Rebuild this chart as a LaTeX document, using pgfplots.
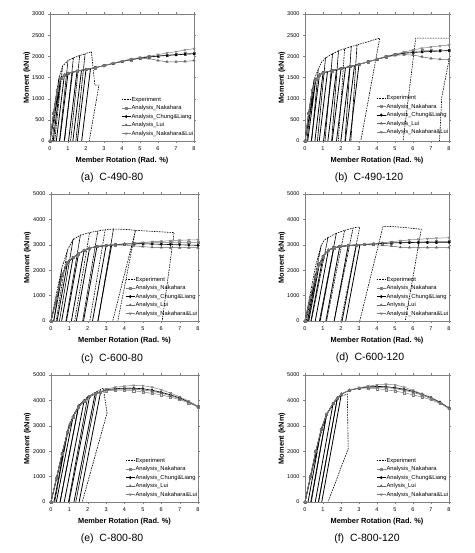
\documentclass[border=0pt]{standalone}
\usepackage{fontspec}
\setmainfont{Liberation Sans}
\usepackage{pgfplots}
\pgfplotsset{compat=1.18}
\pgfplotsset{
  panel/.style={scale only axis, height=127pt, xmin=0, xmax=8, ymin=0,
    xtick={0,1,...,8}, axis line style={gray}, tick style={gray},
    tick align=outside, major tick length=2pt,
    ticklabel style={font=\fontsize{5.5}{6}\selectfont},
    /pgf/number format/assume math mode=true,
    /pgf/number format/set thousands separator={},
    xlabel={Member Rotation (Rad. \%)}, ylabel={Moment (kNm)},
    label style={font=\bfseries\fontsize{7.4}{8}\selectfont},
    xlabel style={at={(axis description cs:0.5,-0.157)}, anchor=center},
    ylabel style={at={(axis description cs:-0.16,0.5)}, anchor=center},
    legend cell align=left,
    legend style={draw=none, fill=none, anchor=north east, font=\fontsize{5.8}{6}\selectfont,
      row sep=1.8pt, inner sep=0pt, nodes={inner sep=0.6pt, text height=4.2pt, text depth=1.3pt}},
    legend image code/.code={\draw[mark repeat=2,mark phase=2,##1] plot coordinates {(0pt,0pt) (4.5pt,0pt) (9pt,0pt)};},
  },
  expt/.style={black, line width=0.6pt, dash pattern=on 1.6pt off 1pt, mark=none},
  cyc/.style={black, line width=0.8pt, mark=none},
  nak/.style={gray, line width=0.5pt, mark=square, mark size=1.1pt, mark options={solid}},
  chung/.style={black, line width=0.6pt, mark=diamond*, mark size=1.2pt, mark options={solid}},
  lui/.style={gray!80!black, line width=0.5pt, mark=triangle*, mark size=1.3pt, mark options={solid}},
  naklui/.style={gray, line width=0.5pt, mark=triangle, mark size=1.3pt, mark options={solid, rotate=180}},
}
\begin{document}
\begin{tikzpicture}[x=1pt,y=1pt]
\path[use as bounding box] (0,0) rectangle (474,553);

% (a) C-490-80
\begin{axis}[panel, at={(50pt,412pt)}, anchor=south west, width=144pt, ymax=3000, ytick={0,500,...,3000},
  legend style={at={(1.0,0.354)}}]
\addplot[cyc, forget plot] coordinates {(0,0)(0.6,1480)(0.18,0)(0.6,1480)(0.8,1560)(0.35,0)(0.8,1560)(1.0,1600)(0.54,0)(1.0,1600)(1.25,1625)(0.79,0)(1.25,1625)(1.5,1650)(1.03,0)(1.5,1650)(1.75,1670)(1.27,0)(1.75,1670)(2.0,1690)(1.52,0)(2.0,1690)(2.25,1710)(1.76,0)};
\addplot[expt] coordinates {(0,0)(0.25,850)(0.5,1500)(0.125,0)(0.5,1500)(0.7,1770)(0.26,0)(0.7,1770)(1.0,1900)(0.525,0)(1.0,1900)(1.3,1960)(0.81,0)(1.3,1960)(1.65,2020)(1.145,0)(1.65,2020)(1.95,2060)(1.435,0)(1.95,2060)(2.3,2110)(2.49,1320)(2.72,1320)(2.18,0)};
\addplot[nak] coordinates {(0,0)(0.2,650)(0.4,1200)(0.6,1480)(0.8,1560)(1.0,1600)(1.5,1650)(2.0,1690)(2.5,1730)(3.0,1780)(3.5,1830)(4.0,1880)(4.5,1920)(5.0,1960)(5.5,1990)(6.0,2010)(6.5,2030)(7.0,2045)(7.5,2060)(8.0,2070)};
\addplot[chung] coordinates {(0,0)(0.2,650)(0.4,1200)(0.6,1480)(0.8,1560)(1.0,1600)(1.5,1650)(2.0,1690)(2.5,1730)(3.0,1780)(3.5,1830)(4.0,1880)(4.5,1920)(5.0,1960)(5.5,1985)(6.0,2005)(6.5,2020)(7.0,2035)(7.5,2050)(8.0,2060)};
\addplot[lui] coordinates {(0,0)(0.2,650)(0.4,1200)(0.6,1480)(0.8,1560)(1.0,1600)(1.5,1650)(2.0,1690)(2.5,1730)(3.0,1780)(3.5,1830)(4.0,1880)(4.5,1920)(5.0,1950)(5.5,1950)(6.0,1900)(6.5,1870)(7.0,1870)(7.5,1880)(8.0,1900)};
\addplot[naklui] coordinates {(0,0)(0.2,650)(0.4,1200)(0.6,1480)(0.8,1560)(1.0,1600)(1.5,1650)(2.0,1690)(2.5,1730)(3.0,1780)(3.5,1840)(4.0,1890)(4.5,1940)(5.0,1970)(5.5,2000)(6.0,2040)(6.5,2080)(7.0,2110)(7.5,2150)(8.0,2180)};
\legend{Experiment, Analysis\_Nakahara, Analysis\_Chung\&Liang, Analysis\_Lui, Analysis\_Nakahara\&Lui}
\end{axis}

% (b) C-490-120
\begin{axis}[panel, at={(305pt,412pt)}, anchor=south west, width=144pt, ymax=3000, ytick={0,500,...,3000},
  legend style={at={(1.0,0.366)}}]
\addplot[cyc, forget plot] coordinates {(0,0)(0.6,1450)(0.15,0)(0.6,1450)(0.8,1560)(0.35,0)(0.8,1560)(1.0,1610)(0.55,0)(1.0,1610)(1.25,1635)(0.79,0)(1.25,1635)(1.5,1660)(1.03,0)(1.5,1660)(1.75,1685)(1.27,0)(1.75,1685)(2.0,1710)(1.51,0)(2.0,1710)(2.25,1735)(1.75,0)(2.25,1735)(2.5,1760)(1.99,0)(2.5,1760)(2.75,1785)(2.24,0)(2.75,1785)(3.0,1810)(2.48,0)};
\addplot[expt] coordinates {(0,0)(0.25,800)(0.5,1450)(0.1,0)(0.5,1450)(0.74,1700)(0.37,0)(0.74,1700)(0.9,1850)(1.14,1960)(0.69,0)(1.14,1960)(1.53,2060)(1.11,0)(1.53,2060)(1.86,2130)(1.48,0)(1.86,2130)(2.2,2180)(1.85,0)(2.2,2180)(2.57,2230)(2.22,0)(2.57,2230)(2.89,2270)(2.55,0)(2.89,2270)(3.3,2320)(3.68,2370)(4.15,2430)(3.1,0)(3.0,-600)(5.3,-600)(5.45,0)(6.15,2430)(7.0,2430)(8.0,2430)(8.2,2430)(8.2,-600)(7.4,-600)(7.6,1040)(8.1,2130)};
\addplot[nak] coordinates {(0,0)(0.2,650)(0.4,1200)(0.6,1450)(0.8,1560)(1.0,1610)(1.5,1660)(2.0,1710)(2.5,1760)(3.0,1810)(3.5,1870)(4.0,1930)(4.5,1990)(5.0,2040)(5.5,2080)(6.0,2110)(6.5,2130)(7.0,2140)(7.5,2145)(8.0,2150)};
\addplot[chung] coordinates {(0,0)(0.2,650)(0.4,1200)(0.6,1450)(0.8,1560)(1.0,1610)(1.5,1660)(2.0,1710)(2.5,1760)(3.0,1810)(3.5,1870)(4.0,1930)(4.5,1990)(5.0,2040)(5.5,2070)(6.0,2090)(6.5,2105)(7.0,2115)(7.5,2125)(8.0,2135)};
\addplot[lui] coordinates {(0,0)(0.2,650)(0.4,1200)(0.6,1450)(0.8,1560)(1.0,1610)(1.5,1660)(2.0,1710)(2.5,1760)(3.0,1810)(3.5,1870)(4.0,1930)(4.5,1980)(5.0,2020)(5.5,2040)(6.0,2030)(6.5,1990)(7.0,1950)(7.5,1930)(8.0,1925)};
\addplot[naklui] coordinates {(0,0)(0.2,650)(0.4,1200)(0.6,1450)(0.8,1560)(1.0,1610)(1.5,1660)(2.0,1710)(2.5,1760)(3.0,1810)(3.5,1870)(4.0,1935)(4.5,2000)(5.0,2050)(5.5,2100)(6.0,2150)(6.5,2190)(7.0,2220)(7.5,2245)(8.0,2265)};
\legend{Experiment, Analysis\_Nakahara, Analysis\_Chung\&Liang, Analysis\_Lui, Analysis\_Nakahara\&Lui}
\end{axis}

% (c) C-600-80
\begin{axis}[panel, at={(51pt,232pt)}, anchor=south west, width=147pt, ymax=5000, ytick={0,1000,...,5000},
  legend style={at={(1.0,0.354)}}]
\addplot[cyc, forget plot] coordinates {(0,0)(0.6,1800)(0.15,0)(0.6,1800)(0.9,2300)(0.33,0)(0.9,2300)(1.2,2500)(0.58,0)(1.2,2500)(1.5,2650)(0.84,0)(1.5,2650)(1.8,2780)(1.11,0)(1.8,2780)(2.1,2870)(1.38,0)(2.1,2870)(2.5,2930)(1.77,0)(2.5,2930)(3.0,2970)(2.26,0)(3.0,2970)(3.3,2990)(2.55,0)};
\addplot[expt] coordinates {(0,0)(0.3,1100)(0.6,2100)(0.15,0)(0.6,2100)(0.9,2800)(0.28,0)(0.9,2800)(1.2,3200)(0.46,0)(1.2,3200)(1.6,3380)(0.81,0)(1.6,3380)(2.1,3480)(1.29,0)(2.1,3480)(2.55,3550)(1.72,0)(2.55,3550)(2.95,3590)(2.11,0)(2.95,3590)(3.4,3620)(2.56,0)(3.4,3620)(4.0,3610)(4.6,3570)(3.36,0)(3.3,-800)(3.42,-800)(4.6,3570)(5.5,3530)(6.7,3480)(6.05,0)};
\addplot[nak] coordinates {(0,0)(0.3,900)(0.6,1800)(0.9,2300)(1.2,2500)(1.5,2650)(1.8,2780)(2.1,2870)(2.5,2930)(3.0,2970)(3.5,3000)(4.0,3030)(4.5,3050)(5.0,3070)(5.5,3080)(6.0,3090)(6.5,3095)(7.0,3100)(7.5,3100)(8.0,3100)};
\addplot[chung] coordinates {(0,0)(0.3,900)(0.6,1800)(0.9,2300)(1.2,2500)(1.5,2650)(1.8,2780)(2.1,2870)(2.5,2930)(3.0,2970)(3.5,3000)(4.0,3030)(4.5,3040)(5.0,3040)(5.5,3030)(6.0,3020)(6.5,3010)(7.0,3000)(7.5,2990)(8.0,2980)};
\addplot[lui] coordinates {(0,0)(0.3,900)(0.6,1800)(0.9,2300)(1.2,2500)(1.5,2650)(1.8,2780)(2.1,2870)(2.5,2930)(3.0,2970)(3.5,2990)(4.0,2990)(4.5,2960)(5.0,2930)(5.5,2900)(6.0,2890)(6.5,2885)(7.0,2885)(7.5,2885)(8.0,2885)};
\addplot[naklui] coordinates {(0,0)(0.3,900)(0.6,1800)(0.9,2300)(1.2,2500)(1.5,2650)(1.8,2780)(2.1,2870)(2.5,2930)(3.0,2980)(3.5,3010)(4.0,3040)(4.5,3065)(5.0,3090)(5.5,3120)(6.0,3140)(6.5,3160)(7.0,3175)(7.5,3190)(8.0,3200)};
\legend{Experiment, Analysis\_Nakahara, Analysis\_Chung\&Liang, Analysis\_Lui, Analysis\_Nakahara\&Lui}
\end{axis}

% (d) C-600-120
\begin{axis}[panel, at={(305pt,232pt)}, anchor=south west, width=144pt, ymax=5000, ytick={0,1000,...,5000},
  legend style={at={(1.0,0.354)}}]
\addplot[cyc, forget plot] coordinates {(0,0)(0.6,1750)(0.14,0)(0.6,1750)(0.8,2250)(0.21,0)(0.8,2250)(1.0,2530)(0.33,0)(1.0,2530)(1.3,2790)(0.57,0)(1.3,2790)(1.6,2880)(0.84,0)(1.6,2880)(1.93,2930)(1.16,0)(1.93,2930)(2.4,2970)(1.62,0)(2.4,2970)(2.85,2990)(2.06,0)(2.85,2990)(3.05,3000)(2.26,0)};
\addplot[expt] coordinates {(0,0)(0.3,1100)(0.6,2200)(0.91,3000)(0.07,0)(0.91,3000)(1.09,3190)(1.28,3290)(0.35,0)(1.28,3290)(1.56,3386)(1.74,3450)(0.8,0)(1.74,3450)(2.2,3570)(1.2,0)(2.2,3570)(2.67,3660)(1.62,0)(2.67,3660)(2.85,3688)(3.04,3700)(2.0,0)(1.9,-800)(2.85,-800)(3.04,0)(4.33,3714)(4.52,3727)(5.0,3710)(5.63,3675)(6.46,3609)(5.57,0)};
\addplot[nak] coordinates {(0,0)(0.3,950)(0.6,1750)(0.8,2250)(1.0,2530)(1.3,2790)(1.6,2880)(1.93,2930)(2.4,2970)(2.85,2990)(3.3,3010)(3.8,3030)(4.3,3060)(4.8,3080)(5.3,3095)(5.8,3105)(6.3,3110)(6.8,3115)(7.3,3120)(8.0,3125)};
\addplot[chung] coordinates {(0,0)(0.3,950)(0.6,1750)(0.8,2250)(1.0,2530)(1.3,2790)(1.6,2880)(1.93,2930)(2.4,2970)(2.85,2990)(3.3,3010)(3.8,3030)(4.3,3055)(4.8,3070)(5.3,3080)(5.8,3090)(6.3,3095)(6.8,3100)(7.3,3100)(8.0,3100)};
\addplot[lui] coordinates {(0,0)(0.3,950)(0.6,1750)(0.8,2250)(1.0,2530)(1.3,2790)(1.6,2880)(1.93,2930)(2.4,2970)(2.85,2990)(3.3,3000)(3.8,3000)(4.3,2980)(4.8,2950)(5.3,2900)(5.8,2890)(6.3,2890)(6.8,2890)(7.3,2890)(8.0,2890)};
\addplot[naklui] coordinates {(0,0)(0.3,950)(0.6,1750)(0.8,2250)(1.0,2530)(1.3,2790)(1.6,2880)(1.93,2930)(2.4,2975)(2.85,3000)(3.3,3020)(3.8,3050)(4.3,3080)(4.8,3120)(5.3,3160)(5.8,3190)(6.3,3215)(6.8,3240)(7.3,3260)(8.0,3280)};
\legend{Experiment, Analysis\_Nakahara, Analysis\_Chung\&Liang, Anlysis\_Lui, Analysis\_Nakahara\&Lui}
\end{axis}

% (e) C-800-80
\begin{axis}[panel, at={(51pt,51pt)}, anchor=south west, width=147pt, ymax=5000, ytick={0,1000,...,5000},
  legend style={at={(1.0,0.354)}}]
\addplot[cyc, forget plot] coordinates {(0,0)(0.9,2750)(0.16,0)(0.9,2750)(1.2,3350)(0.29,0)(1.2,3350)(1.5,3750)(0.49,0)(1.5,3750)(1.8,3980)(0.72,0)(1.8,3980)(2.1,4150)(0.98,0)(2.1,4150)(2.4,4260)(1.25,0)(2.4,4260)(2.7,4330)(1.53,0)};
\addplot[expt] coordinates {(0,0)(0.5,1600)(1.0,3100)(0.2,0)(1.0,3100)(1.5,3800)(0.5,0)(1.5,3800)(2.0,4150)(0.95,0)(2.0,4150)(2.5,4350)(1.35,0)(2.5,4350)(2.85,4480)(3.05,3500)(1.7,0)};
\addplot[nak] coordinates {(0,0)(0.3,950)(0.6,1900)(0.9,2750)(1.2,3350)(1.5,3750)(1.8,3980)(2.1,4150)(2.4,4260)(2.7,4330)(3.0,4380)(3.5,4400)(4.0,4400)(4.5,4380)(5.0,4330)(5.5,4280)(6.0,4220)(6.5,4130)(7.0,4030)(7.5,3900)(8.0,3750)};
\addplot[chung] coordinates {(0,0)(0.3,950)(0.6,1900)(0.9,2750)(1.2,3350)(1.5,3750)(1.8,3980)(2.1,4150)(2.4,4260)(2.7,4330)(3.0,4420)(3.5,4460)(4.0,4480)(4.5,4480)(5.0,4460)(5.5,4400)(6.0,4320)(6.5,4220)(7.0,4100)(7.5,3940)(8.0,3760)};
\addplot[lui] coordinates {(0,0)(0.3,950)(0.6,1900)(0.9,2750)(1.2,3350)(1.5,3750)(1.8,3980)(2.1,4150)(2.4,4260)(2.7,4330)(3.0,4400)(3.5,4440)(4.0,4450)(4.5,4440)(5.0,4410)(5.5,4360)(6.0,4290)(6.5,4190)(7.0,4070)(7.5,3930)(8.0,3750)};
\addplot[naklui] coordinates {(0,0)(0.3,950)(0.6,1900)(0.9,2750)(1.2,3350)(1.5,3750)(1.8,3980)(2.1,4150)(2.4,4260)(2.7,4340)(3.0,4450)(3.5,4520)(4.0,4560)(4.5,4590)(5.0,4580)(5.5,4520)(6.0,4420)(6.5,4290)(7.0,4140)(7.5,3970)(8.0,3770)};
\legend{Experiment, Analysis\_Nakahara, Analysis\_Chung\&Liang, Analysis\_Lui, Analysis\_Nakahara\&Lui}
\end{axis}

% (f) C-800-120
\begin{axis}[panel, at={(305pt,51pt)}, anchor=south west, width=144pt, ymax=5000, ytick={0,1000,...,5000},
  legend style={at={(1.0,0.354)}}]
\addplot[cyc, forget plot] coordinates {(0,0)(0.9,2850)(0.17,0)(0.9,2850)(1.2,3450)(0.32,0)(1.2,3450)(1.56,3874)(0.57,0)(1.56,3874)(1.8,4100)(0.75,0)(1.8,4100)(2.02,4250)(0.93,0)};
\addplot[expt] coordinates {(0,0)(0.6,2000)(1.2,3450)(0.35,0)(1.2,3450)(1.8,4100)(0.75,0)(1.8,4100)(2.35,4250)(2.4,2100)(1.28,0)};
\addplot[nak] coordinates {(0,0)(0.3,1000)(0.6,2000)(0.9,2850)(1.2,3450)(1.56,3874)(1.8,4100)(2.02,4250)(2.48,4400)(3.0,4480)(3.5,4480)(4.0,4460)(4.5,4420)(5.0,4370)(5.5,4300)(6.0,4220)(6.5,4130)(7.0,4030)(7.5,3880)(8.0,3700)};
\addplot[chung] coordinates {(0,0)(0.3,1000)(0.6,2000)(0.9,2850)(1.2,3450)(1.56,3874)(1.8,4100)(2.02,4250)(2.48,4400)(3.0,4480)(3.5,4530)(4.0,4550)(4.5,4540)(5.0,4500)(5.5,4440)(6.0,4360)(6.5,4250)(7.0,4110)(7.5,3930)(8.0,3700)};
\addplot[lui] coordinates {(0,0)(0.3,1000)(0.6,2000)(0.9,2850)(1.2,3450)(1.56,3874)(1.8,4100)(2.02,4250)(2.48,4400)(3.0,4480)(3.5,4510)(4.0,4520)(4.5,4510)(5.0,4470)(5.5,4400)(6.0,4320)(6.5,4210)(7.0,4080)(7.5,3910)(8.0,3690)};
\addplot[naklui] coordinates {(0,0)(0.3,1000)(0.6,2000)(0.9,2850)(1.2,3450)(1.56,3874)(1.8,4100)(2.02,4250)(2.48,4410)(3.0,4500)(3.5,4560)(4.0,4610)(4.5,4630)(5.0,4610)(5.5,4520)(6.0,4400)(6.5,4250)(7.0,4080)(7.5,3900)(8.0,3680)};
\legend{Experiment, Analysis\_Nakahara, Analysis\_Chung\&Liang, Anlysis\_Lui, Analysis\_Nakahara\&Lui}
\end{axis}

\node[font=\fontsize{10.5}{12}\selectfont] at (112,375) {(a)\ \ C-490-80};
\node[font=\fontsize{10.5}{12}\selectfont] at (369,375) {(b)\ \ C-490-120};
\node[font=\fontsize{10.5}{12}\selectfont] at (112,194) {(c)\ \ C-600-80};
\node[font=\fontsize{10.5}{12}\selectfont] at (370,195) {(d)\ \ C-600-120};
\node[font=\fontsize{10.5}{12}\selectfont] at (112,14) {(e)\ \ C-800-80};
\node[font=\fontsize{10.5}{12}\selectfont] at (367,14) {(f)\ \ C-800-120};
\end{tikzpicture}
\end{document}
